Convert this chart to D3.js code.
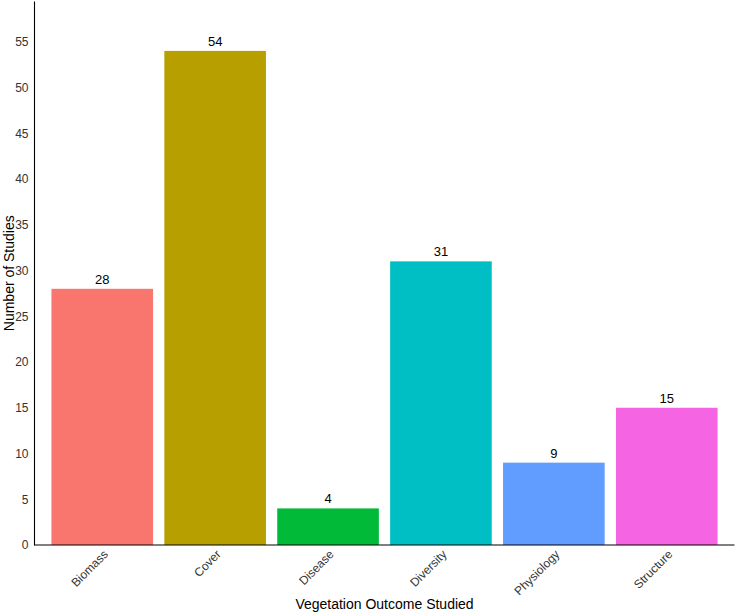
<!DOCTYPE html>
<html><head><meta charset="utf-8">
<script src="https://cdn.jsdelivr.net/npm/d3@7"></script>
<style>body{margin:0;background:#fff}svg{display:block;font-family:"Liberation Sans",Arial,sans-serif}</style>
</head><body>
<svg id="c" width="737" height="615"></svg>
<script>
const categories = ["Biomass","Cover","Disease","Diversity","Physiology","Structure"];
const counts = [28,54,4,31,9,15];
const colors = ["#F8766D","#B79F00","#00BA38","#00BFC4","#619CFF","#F564E3"];
const yTicks = [0,5,10,15,20,25,30,35,40,45,50,55];

const svg = d3.select("#c");
const L = 34.5, R = 734.5, T = 1.5, B = 545;
// ggplot: outer expand 0.6 units, bar width 0.9 units
const step = (R-L)/(categories.length - 1 + 1.2);
const xc = d3.scalePoint().domain(categories).range([L+0.6*step, R-0.6*step]);
const bw = 0.9*step;
const y = d3.scaleLinear().domain([0, 54*1.1]).range([B, T]);

svg.append("g").selectAll("rect").data(categories).join("rect")
  .attr("x", d => xc(d) - bw/2).attr("width", bw)
  .attr("y", (d,i) => y(counts[i])).attr("height", (d,i) => B - y(counts[i]))
  .attr("fill", (d,i) => colors[i]);

svg.append("g").selectAll("text").data(categories).join("text")
  .attr("x", d => xc(d)).attr("y", (d,i) => y(counts[i]) - 5)
  .attr("text-anchor","middle").attr("font-size", 13).attr("fill","#000")
  .text((d,i) => counts[i]);

// y axis
const ya = svg.append("g").attr("transform", `translate(${L},0)`)
  .call(d3.axisLeft(y).tickValues(yTicks).tickSize(0).tickPadding(6));
ya.select(".domain").remove();
ya.selectAll("text").attr("font-size", 12).attr("fill","#333").attr("font-family","Liberation Sans, Arial, sans-serif");
svg.append("line").attr("x1",L).attr("x2",L).attr("y1",T).attr("y2",B+0.5).attr("stroke","#000").attr("stroke-width",1.1);

// x axis
const xa = svg.append("g").attr("transform", `translate(0,${B})`)
  .call(d3.axisBottom(xc).tickSize(0).tickPadding(0));
xa.select(".domain").remove();
xa.selectAll("text")
  .attr("font-size", 12).attr("fill","#333").attr("font-family","Liberation Sans, Arial, sans-serif")
  .attr("text-anchor","end").attr("dy", null).attr("y", 0)
  .attr("transform","translate(6,10) rotate(-45)");
svg.append("line").attr("x1",L).attr("x2",R).attr("y1",B).attr("y2",B).attr("stroke","#000").attr("stroke-width",1.1);

svg.append("text").attr("x", (L+R)/2).attr("y", 609).attr("text-anchor","middle")
  .attr("font-size", 14).attr("fill","#000").text("Vegetation Outcome Studied");
svg.append("text").attr("transform", `translate(14,${(T+B)/2}) rotate(-90)`).attr("text-anchor","middle")
  .attr("font-size", 14).attr("fill","#000").text("Number of Studies");
</script>
</body></html>
